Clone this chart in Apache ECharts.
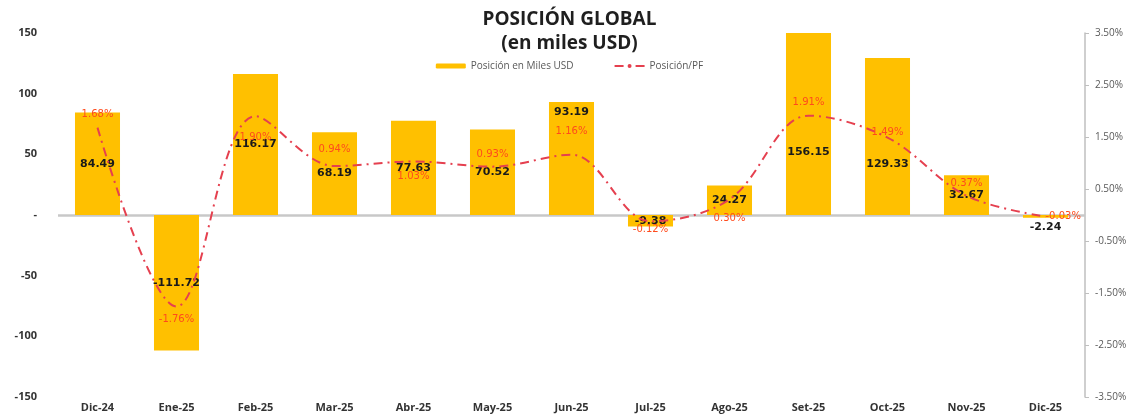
<!DOCTYPE html>
<html>
<head>
<meta charset="utf-8">
<script src="https://cdn.jsdelivr.net/npm/echarts@6/dist/echarts.min.js"></script>
<style>
  html, body { margin: 0; padding: 0; background: #fff; }
  #chart { width: 1139px; height: 420px; }
</style>
</head>
<body>
<div id="chart"></div>
<script>
// Monthly global position (thousands of USD) and its ratio to PF (%)
const categories = ['Dic-24', 'Ene-25', 'Feb-25', 'Mar-25', 'Abr-25', 'May-25', 'Jun-25',
                    'Jul-25', 'Ago-25', 'Set-25', 'Oct-25', 'Nov-25', 'Dic-25'];
const positionValues = [84.49, -111.72, 116.17, 68.19, 77.63, 70.52, 93.19,
                        -9.38, 24.27, 156.15, 129.33, 32.67, -2.24];
const ratioValues = [1.68, -1.76, 1.90, 0.94, 1.03, 0.93, 1.16,
                     -0.12, 0.30, 1.91, 1.49, 0.37, -0.03];
const rightTickValues = [3.5, 2.5, 1.5, 0.5, -0.5, -1.5, -2.5, -3.5];

const BAR_COLOR = '#FFC000';
const LINE_COLOR = '#E5404F';
const PCT_COLOR = '#FF4A1C';

// label placement tweaks for individual bars
const barLabelTweaks = {
  6: { position: 'insideTop', distance: 5 },
  9: { position: 'inside', offset: [0, 28] },
  10: { position: 'inside', offset: [0, 28] },
  12: { position: 'bottom', distance: 4 }
};
// label placement tweaks for individual ratio points
const lineLabelTweaks = {
  0: { position: 'top', distance: 8, offset: [3, 0] },
  1: { position: 'bottom', distance: 8, offset: [10, 0] },
  2: { position: 'bottom', distance: 16, offset: [-3, 0] },
  3: { position: 'top', distance: 12, offset: [8, 0] },
  4: { position: 'bottom', distance: 10, offset: [-4, 0] },
  5: { position: 'top', distance: 7 },
  6: { position: 'top', distance: 18, offset: [8, 0] },
  7: { position: 'bottom', distance: 3, offset: [-8, 0] },
  8: { position: 'bottom', distance: 14 },
  9: { position: 'top', distance: 8, offset: [3, 0] },
  10: { position: 'top', distance: 0, offset: [3, 0] },
  11: { position: 'top', distance: 7 },
  12: { position: 'right', distance: 0, offset: [-2, -8] }
};

const barData = positionValues.map((v, i) => {
  const item = { value: v };
  if (barLabelTweaks[i]) item.label = barLabelTweaks[i];
  return item;
});
const lineData = ratioValues.map((v, i) => {
  const item = { value: v };
  if (lineLabelTweaks[i]) item.label = lineLabelTweaks[i];
  return item;
});

const chart = echarts.init(document.getElementById('chart'), null, { renderer: 'canvas' });

chart.setOption({
  animation: false,
  backgroundColor: '#ffffff',
  textStyle: { fontFamily: '"Open Sans", "DejaVu Sans", sans-serif' },
  title: {
    text: 'POSICIÓN GLOBAL\n(en miles USD)',
    left: 'center',
    top: 3,
    textStyle: {
      fontFamily: '"Open Sans", sans-serif',
      fontSize: 19,
      fontWeight: 'bold',
      color: '#1f1f1f',
      lineHeight: 24
    }
  },
  legend: {
    top: 56,
    left: 'center',
    itemWidth: 30,
    itemHeight: 5,
    itemGap: 40,
    textStyle: { fontSize: 10, color: '#595959' },
    data: ['Posición en Miles USD', 'Posición/PF']
  },
  grid: { left: 58, right: 54, top: 33, bottom: 23, containLabel: false },
  xAxis: {
    type: 'category',
    data: categories,
    axisLine: { show: false },
    axisTick: { show: false },
    axisLabel: {
      fontSize: 11,
      fontWeight: 'bold',
      color: '#333333',
      margin: 5
    }
  },
  yAxis: [
    {
      type: 'value',
      min: -150,
      max: 150,
      interval: 50,
      axisLine: { show: false },
      axisTick: { show: false },
      splitLine: { show: false },
      axisLabel: {
        fontSize: 11,
        fontWeight: 'bold',
        color: '#333333',
        margin: 21,
        formatter: v => (v === 0 ? '-' : String(v))
      }
    },
    {
      type: 'value',
      min: -3.5,
      max: 3.5,
      position: 'right',
      axisLine: { show: true, lineStyle: { color: '#bfbfbf', width: 1.5 } },
      axisTick: {
        show: true,
        length: 4,
        lineStyle: { color: '#bfbfbf' },
        customValues: rightTickValues
      },
      splitLine: { show: false },
      axisLabel: {
        fontSize: 10,
        color: '#595959',
        margin: 10,
        customValues: rightTickValues,
        formatter: v => v.toFixed(2) + '%'
      }
    }
  ],
  series: [
    {
      name: 'Posición en Miles USD',
      type: 'bar',
      yAxisIndex: 0,
      data: barData,
      barCategoryGap: '43%',
      itemStyle: { color: BAR_COLOR },
      clip: true,
      label: {
        show: true,
        position: 'inside',
        fontSize: 11,
        fontWeight: 'bold',
        color: '#1a1a1a',
        fontFamily: '"DejaVu Sans", sans-serif',
        formatter: p => p.value.toFixed(2)
      },
      markLine: {
        silent: true,
        symbol: 'none',
        label: { show: false },
        lineStyle: { color: '#c8c8c8', width: 2.5, type: 'solid' },
        data: [{ yAxis: 0 }],
        z: 1
      },
      z: 2
    },
    {
      name: 'Posición/PF',
      type: 'line',
      yAxisIndex: 1,
      data: lineData,
      smooth: 0.35,
      showSymbol: true,
      symbol: 'circle',
      symbolSize: 0.01,
      lineStyle: { color: LINE_COLOR, width: 2, type: [9, 5, 2, 5] },
      itemStyle: { color: LINE_COLOR },
      labelLayout: { hideOverlap: false },
      label: {
        show: true,
        position: 'top',
        fontSize: 10,
        color: PCT_COLOR,
        fontFamily: '"DejaVu Sans", sans-serif',
        formatter: p => p.value.toFixed(2) + '%'
      },
      z: 5
    }
  ]
});
</script>
</body>
</html>
